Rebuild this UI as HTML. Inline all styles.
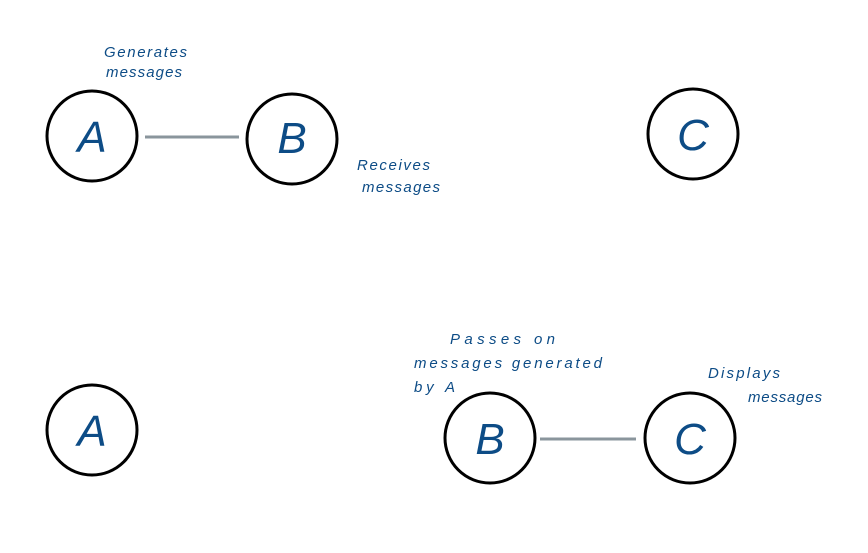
<!DOCTYPE html>
<html><head><style>
html,body{margin:0;padding:0;background:#fff;width:868px;height:553px;overflow:hidden}
</style></head><body>
<svg width="868" height="553" xmlns="http://www.w3.org/2000/svg">
<g fill="none" stroke="#000" stroke-width="3">
<circle cx="92" cy="136" r="45"/>
<circle cx="292" cy="139" r="45"/>
<circle cx="693" cy="134" r="45"/>
<circle cx="92" cy="430" r="45"/>
<circle cx="490" cy="438" r="45"/>
<circle cx="690" cy="438" r="45"/>
</g>
<g stroke="#8a959c" stroke-width="3">
<line x1="145" y1="137" x2="239" y2="137"/>
<line x1="540" y1="439" x2="636" y2="439"/>
</g>
<g fill="#0d4c86" font-family="Liberation Sans, sans-serif" font-style="italic" font-size="44" text-anchor="middle">
<text x="92" y="152">A</text>
<text x="292" y="153">B</text>
<text x="693" y="150">C</text>
<text x="92" y="446">A</text>
<text x="490" y="454">B</text>
<text x="690" y="454">C</text>
</g>
<g fill="#0d4c86" font-family="Liberation Sans, sans-serif" font-size="15" font-style="italic" lengthAdjust="spacing">
<text x="104" y="57" textLength="83">Generates</text>
<text x="106" y="77" textLength="76">messages</text>
<text x="357" y="170" textLength="73">Receives</text>
<text x="362" y="192" textLength="78">messages</text>
<text x="450" y="344" textLength="105">Passes  on</text>
<text x="414" y="368" textLength="188">messages  generated</text>
<text x="414" y="392" textLength="41">by A</text>
<text x="708" y="378" textLength="72">Displays</text>
<text x="748" y="402" textLength="74">messages</text>
</g>
</svg>
</body></html>
